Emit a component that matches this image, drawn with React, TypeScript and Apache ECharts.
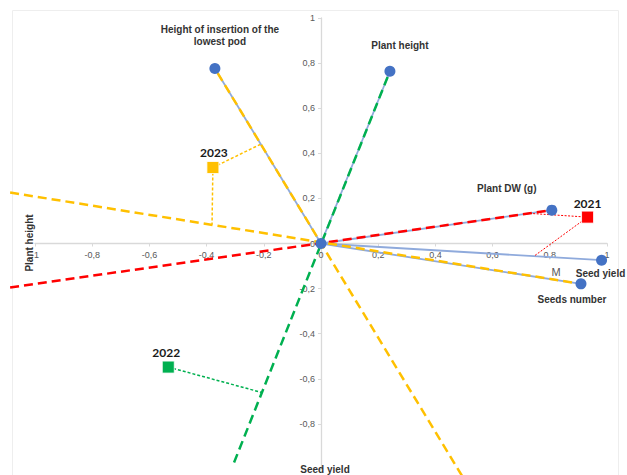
import React, { useEffect, useRef } from "react";
import * as echarts from "echarts";

const varNames = ["Height of insertion of the\nlowest pod", "Plant height", "Plant DW (g)", "Seed yield", "Seeds number"];
const varX = [-0.371, 0.241, 0.807, 0.981, 0.909];
const varY = [0.776, 0.764, 0.148, -0.074, -0.179];
const varLabelOffsets = [[5, -33], [10, -26], [-45, -22], [-1, 13], [-9, 16]];

const years = ["2021", "2022", "2023"];
const yearX = [0.932, -0.534, -0.378];
const yearY = [0.117, -0.548, 0.337];
const yearColors = ["#FF0000", "#00B050", "#FFC000"];
const yearLabelOffsets = [[0, -14], [-2, -15], [1, -15]];

// year axes: [x1, y1, x2, y2] passing through origin
const redAxis = [-1.087, -0.195, 0.807, 0.148];
const greenAxis = [-0.304, -0.971, 0.241, 0.764];
const yellowAxisA = [-1.087, 0.226, 0.909, -0.179];
const yellowAxisB = [0.493, -1.03, -0.371, 0.776];
const axisColors = ["#FF0000", "#00B050", "#FFC000", "#FFC000"];

// projections of year points onto their axes
const proj2021 = [[[0.932, 0.117], [0.724, 0.134]], [[0.932, 0.117], [0.745, -0.056]]];
const proj2022 = [[[-0.534, -0.548], [-0.206, -0.661]]];
const proj2023 = [[[-0.378, 0.337], [-0.213, 0.439]], [[-0.378, 0.337], [-0.381, 0.084]]];

const fmt = (v: number) => {
  const r = Math.round(v * 10) / 10;
  return String(r).replace(".", ",");
};
const fmtY = (v: number) => (v <= -0.99 ? "" : fmt(v));

const GRID = { left: 35, right: 20, top: 18, bottom: 6 };
const W = 627;
const H = 475;

export default function App() {
  const ref = useRef<HTMLDivElement>(null);
  useEffect(() => {
    if (!ref.current) return;
    const chart = echarts.init(ref.current, undefined, { renderer: "svg" });
    const series: any[] = [];
    varX.forEach((x, i) => {
      series.push({
        type: "line",
        data: [[0, 0], [x, varY[i]]],
        symbol: "none",
        lineStyle: { color: "#8FAADC", width: 1.8 },
        z: 2,
      });
    });
    series.push({
      type: "custom",
      clip: false,
      z: 3,
      data: [redAxis, greenAxis, yellowAxisA, yellowAxisB],
      encode: { x: [0, 2], y: [1, 3] },
      renderItem: (params: any, api: any) => {
        const p1 = api.coord([api.value(0), api.value(1)]);
        const p2 = api.coord([api.value(2), api.value(3)]);
        return {
          type: "line",
          shape: { x1: p1[0], y1: p1[1], x2: p2[0], y2: p2[1] },
          style: { stroke: axisColors[params.dataIndex], lineWidth: 2.5, lineDash: [9, 5], fill: null },
        };
      },
    });
    const dotted = (pts: number[][], color: string, w: number, t: number[]) => ({
      type: "line",
      data: pts,
      symbol: "none",
      lineStyle: { color, width: w, type: t },
      z: 3,
    });
    proj2021.forEach((p) => series.push(dotted(p, "#FF0000", 1, [2, 1.5])));
    proj2022.forEach((p) => series.push(dotted(p, "#00B050", 1.5, [3, 2])));
    proj2023.forEach((p) => series.push(dotted(p, "#FFC000", 1.5, [3, 2])));
    series.push({
      type: "scatter",
      symbol: "circle",
      symbolSize: 11,
      z: 5,
      itemStyle: { color: "#4472C4", opacity: 1 },
      data: [
        { value: [0, 0] },
        ...varX.map((x, i) => ({
          value: [x, varY[i]],
          label: {
            show: true,
            formatter: varNames[i],
            position: "inside",
            offset: varLabelOffsets[i],
            color: "#333333",
            fontFamily: "Liberation Sans",
            fontWeight: "bold",
            fontSize: 10,
            lineHeight: 12,
            align: "center",
          },
        })),
      ],
    });
    series.push({
      type: "scatter",
      symbol: "rect",
      symbolSize: 12,
      z: 6,
      data: yearX.map((x, i) => ({
        value: [x, yearY[i]],
        itemStyle: { color: yearColors[i], opacity: 1, borderColor: "#ffffff", borderWidth: 0.8 },
        label: {
          show: true,
          formatter: years[i],
          position: "inside",
          offset: yearLabelOffsets[i],
          color: "#1a1a1a",
          fontFamily: "Lato",
          fontWeight: "bold",
          fontSize: 12,
        },
      })),
    });

    const plotW = W - GRID.left - GRID.right;
    const plotH = H - GRID.top - GRID.bottom;

    chart.setOption({
      animation: false,
      grid: { ...GRID, containLabel: false, outerBoundsMode: "none" },
      xAxis: {
        type: "value",
        min: -1,
        max: 1,
        interval: 0.2,
        position: "bottom",
        offset: -plotH / 2,
        axisLine: { onZero: false, lineStyle: { color: "#D9D9D9", width: 1.3 } },
        axisTick: { show: true, length: 3, lineStyle: { color: "#D9D9D9" } },
        splitLine: { show: false },
        axisLabel: { formatter: fmt, color: "#595959", fontSize: 9, fontFamily: "Liberation Sans", margin: 7 },
      },
      yAxis: {
        type: "value",
        min: -1,
        max: 1,
        interval: 0.2,
        position: "left",
        offset: -plotW / 2,
        axisLine: { onZero: false, lineStyle: { color: "#D9D9D9", width: 1.3 } },
        axisTick: { show: true, length: 3, lineStyle: { color: "#D9D9D9" } },
        splitLine: { show: false },
        axisLabel: { formatter: fmtY, color: "#595959", fontSize: 9, fontFamily: "Liberation Sans", margin: 6 },
      },
      graphic: [
        {
          type: "rect",
          left: 10,
          top: 8,
          shape: { width: 606, height: 480 },
          silent: true,
          z: -10,
          style: { fill: "none", stroke: "#EEEEEE", lineWidth: 1 },
        },
        {
          type: "text",
          x: 29,
          y: 243,
          rotation: Math.PI / 2,
          z: 10,
          style: {
            text: "Plant height",
            fill: "#333333",
            font: "bold 10px 'Liberation Sans'",
            align: "center",
            verticalAlign: "middle",
          },
        },
        {
          type: "text",
          x: 325,
          y: 464,
          z: 10,
          style: {
            text: "Seed yield",
            fill: "#333333",
            font: "bold 10px 'Liberation Sans'",
            align: "center",
            verticalAlign: "top",
          },
        },
        {
          type: "text",
          x: 556,
          y: 272,
          z: 10,
          style: {
            text: "M",
            fill: "#595959",
            font: "11px 'Liberation Sans'",
            align: "center",
            verticalAlign: "middle",
          },
        },
      ],
      series,
    });
    return () => chart.dispose();
  }, []);
  return <div ref={ref} style={{ position: "fixed", left: 0, top: 0, width: W, height: H, background: "#fff" }} />;
}
